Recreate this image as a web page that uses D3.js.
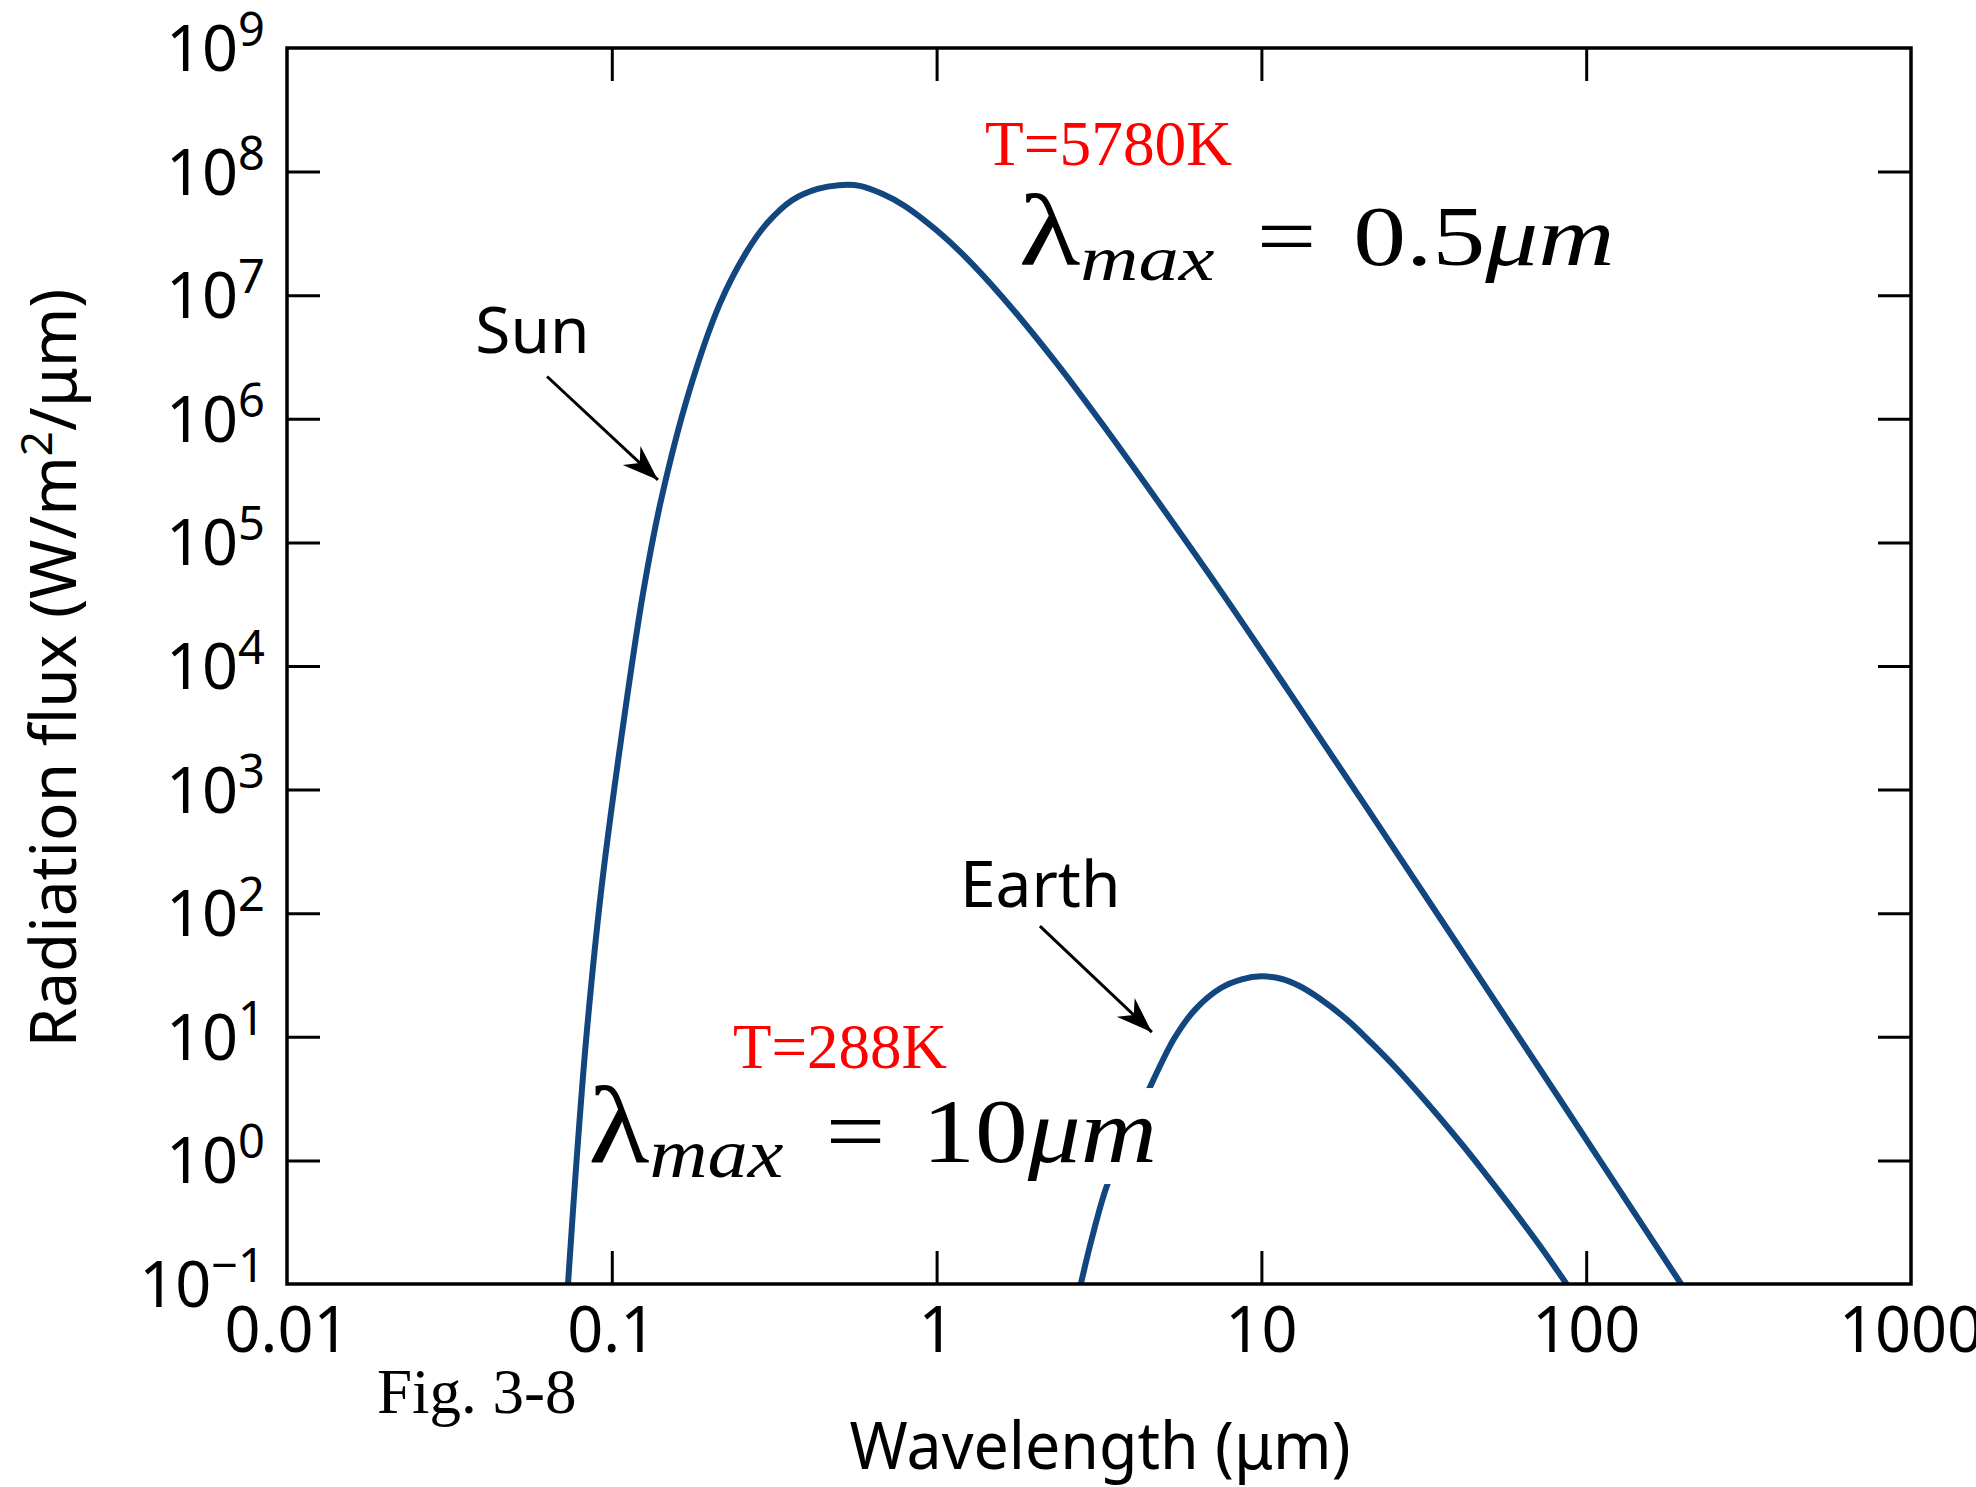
<!DOCTYPE html>
<html>
<head>
<meta charset="utf-8">
<script src="https://cdn.jsdelivr.net/npm/d3@7"></script>
<style>
  body { margin: 0; background: #fff; }
  svg { display: block; }
</style>
</head>
<body>
<script>
// ---- data ----
var xTickValues = [0.01, 0.1, 1, 10, 100, 1000];
var xTickLabels = ["0.01", "0.1", "1", "10", "100", "1000"];
var yTickValues = [0.1, 1, 10, 100, 1e3, 1e4, 1e5, 1e6, 1e7, 1e8, 1e9];
var yTickExponents = ["\u22121", "0", "1", "2", "3", "4", "5", "6", "7", "8", "9"];

// Sun, T = 5780 K
var sunWavelength = [0.0733, 0.0778, 0.0835, 0.0929, 0.107, 0.125, 0.142, 0.173, 0.215, 0.26,
  0.30, 0.36, 0.43, 0.50, 0.58, 0.68, 0.80, 1.0, 1.2, 1.6,
  2.34, 3.17, 4.69, 7.53, 12, 21.2, 40, 80, 196];
var sunFlux = [0.1, 0.955, 10, 158, 2630, 3.98e4, 2.24e5, 1.66e6, 8.51e6, 2.24e7,
  3.8e7, 5.89e7, 7.24e7, 7.76e7, 7.67e7, 6.61e7, 5.25e7, 3.35e7, 2.16e7, 9.55e6,
  2.82e6, 9.77e5, 2.34e5, 3.98e4, 6530, 701, 56.9, 3.61, 0.1];

// Earth, T = 288 K
var earthWavelength = [2.78, 3.0, 3.33, 3.8, 4.5, 5.4, 6.25, 7.5, 8.7, 10,
  11.5, 13, 15, 18.5, 22, 26, 32, 40, 48, 60, 72, 87];
var earthFlux = [0.1, 0.229, 0.603, 1.38, 3.72, 9.77, 16.6, 24.8, 29.2, 30.9,
  29.5, 26.0, 20.7, 13.5, 8.71, 5.56, 3.02, 1.51, 0.832, 0.389, 0.204, 0.1];

// annotations, positioned in data units
var annotations = [
  {text: "Sun", x: 0.038, y: 3.4e6},
  {text: "Earth", x: 1.18, y: 112}
];
var arrows = [
  {from: [0.0632, 2.2e6], to: [0.1387, 3.2e5]},
  {from: [2.08, 78.7], to: [4.6, 10.9]}
];
var tempLabels = [
  {text: "T=5780K", x: 1.41, y: 1.13e8, w: 247},
  {text: "T=288K", x: 0.236, y: 5.6, w: 214}
];
var peakLabels = [
  {value: "0.5", x: 1.79, y: 1.75e7, w: 596, size: 84, box: false},
  {value: "10", x: 0.0846, y: 0.97, w: 569, size: 92, box: true}
];

var margin = {top: 48, right: 65, bottom: 203, left: 287};
var width = 1976 - margin.left - margin.right;
var height = 1487 - margin.top - margin.bottom;

var sans = "'Noto Sans', 'Open Sans', sans-serif";
var serif = "'Liberation Serif', 'Times New Roman', serif";
var curveColor = "#11467f";

var svg = d3.select("body").append("svg")
  .attr("width", width + margin.left + margin.right)
  .attr("height", height + margin.top + margin.bottom);

var defs = svg.append("defs");
defs.append("clipPath").attr("id", "plot-clip")
  .append("rect").attr("width", width).attr("height", height);
defs.append("marker")
  .attr("id", "head")
  .attr("markerUnits", "userSpaceOnUse")
  .attr("viewBox", "-38 -15 40 30")
  .attr("markerWidth", 40).attr("markerHeight", 30)
  .attr("refX", 0).attr("refY", 0)
  .attr("orient", "auto")
  .append("path")
  .attr("d", "M0,0 L-36,-13 L-25,0 L-36,13 Z")
  .attr("fill", "#000");

var g = svg.append("g")
  .attr("transform", "translate(" + margin.left + "," + margin.top + ")");

var x = d3.scaleLog().domain([0.01, 1000]).range([0, width]);
var y = d3.scaleLog().domain([0.1, 1e9]).range([height, 0]);

// stretch a text horizontally so it matches the width seen in the figure
function fitWidth(text, w) {
  var b = text.node().getBBox();
  text.attr("transform", "scale(" + (w / b.width) + ",1)");
  return text;
}

// ---- curves ----
var line = d3.line()
  .x(function(d) { return x(d[0]); })
  .y(function(d) { return y(d[1]); })
  .curve(d3.curveCatmullRom.alpha(0.5));

var series = [
  d3.zip(sunWavelength, sunFlux),
  d3.zip(earthWavelength, earthFlux)
];

g.append("g")
  .attr("clip-path", "url(#plot-clip)")
  .selectAll("path")
  .data(series)
  .enter()
  .append("path")
  .attr("d", line)
  .attr("fill", "none")
  .attr("stroke", curveColor)
  .attr("stroke-width", 6)
  .attr("stroke-linejoin", "round");

// ---- ticks (inward, on all four sides) ----
var innerX = xTickValues.slice(1, -1);
var innerY = yTickValues.slice(1, -1);
var tickLen = -33;

function styleTicks(sel) {
  sel.select(".domain").remove();
  sel.selectAll(".tick line").attr("stroke", "#000").attr("stroke-width", 3);
}

g.append("g").attr("transform", "translate(0," + height + ")")
  .call(d3.axisBottom(x).tickValues(innerX).tickSize(tickLen).tickFormat(""))
  .call(styleTicks);
g.append("g")
  .call(d3.axisTop(x).tickValues(innerX).tickSize(tickLen).tickFormat(""))
  .call(styleTicks);
g.append("g")
  .call(d3.axisLeft(y).tickValues(innerY).tickSize(tickLen).tickFormat(""))
  .call(styleTicks);
g.append("g").attr("transform", "translate(" + width + ",0)")
  .call(d3.axisRight(y).tickValues(innerY).tickSize(tickLen).tickFormat(""))
  .call(styleTicks);

g.append("rect")
  .attr("width", width)
  .attr("height", height)
  .attr("fill", "none")
  .attr("stroke", "#000")
  .attr("stroke-width", 3.5);

// ---- tick labels ----
g.selectAll(".xlabel")
  .data(xTickValues)
  .enter()
  .append("text")
  .attr("class", "xlabel")
  .attr("x", function(d) { return x(d); })
  .attr("y", height + 68)
  .attr("text-anchor", "middle")
  .style("font-family", sans)
  .style("font-size", "63px")
  .text(function(d, i) { return xTickLabels[i]; });

var ylab = g.selectAll(".ylabel")
  .data(yTickValues)
  .enter()
  .append("text")
  .attr("class", "ylabel")
  .attr("x", -22)
  .attr("y", function(d) { return y(d) + 23; })
  .attr("text-anchor", "end")
  .style("font-family", sans)
  .style("font-size", "63px");
ylab.append("tspan").text("10");
ylab.append("tspan")
  .attr("dy", -25)
  .style("font-size", "47px")
  .text(function(d, i) { return yTickExponents[i]; });

// ---- axis titles ----
var xt = g.append("g").attr("transform", "translate(813," + (height + 185) + ")")
  .append("text")
  .attr("text-anchor", "middle")
  .style("font-family", sans)
  .style("font-size", "66px")
  .text("Wavelength (\u03bcm)");
fitWidth(xt, 501);

var yt = g.append("g").attr("transform", "translate(-211,620) rotate(-90)")
  .append("text")
  .attr("text-anchor", "middle")
  .style("font-family", sans)
  .style("font-size", "64px");
yt.append("tspan").text("Radiation flux (W/m");
yt.append("tspan").attr("dy", -24).style("font-size", "44px").text("2");
yt.append("tspan").attr("dy", 24).text("/\u03bcm)");
fitWidth(yt, 759);

g.append("text")
  .attr("x", 90)
  .attr("y", height + 129)
  .style("font-family", serif)
  .style("font-size", "63px")
  .text("Fig. 3-8");

// ---- annotations ----
g.selectAll(".name")
  .data(annotations)
  .enter()
  .append("text")
  .attr("class", "name")
  .attr("x", function(d) { return x(d.x); })
  .attr("y", function(d) { return y(d.y); })
  .style("font-family", sans)
  .style("font-size", "64px")
  .text(function(d) { return d.text; });

g.selectAll(".arrow")
  .data(arrows)
  .enter()
  .append("line")
  .attr("class", "arrow")
  .attr("x1", function(d) { return x(d.from[0]); })
  .attr("y1", function(d) { return y(d.from[1]); })
  .attr("x2", function(d) { return x(d.to[0]); })
  .attr("y2", function(d) { return y(d.to[1]); })
  .attr("stroke", "#000")
  .attr("stroke-width", 3)
  .attr("marker-end", "url(#head)");

tempLabels.forEach(function(d) {
  var t = g.append("g")
    .attr("transform", "translate(" + x(d.x) + "," + y(d.y) + ")")
    .append("text")
    .attr("fill", "#ff0000")
    .style("font-family", serif)
    .style("font-size", "64px")
    .text(d.text);
  fitWidth(t, d.w);
});

peakLabels.forEach(function(d) {
  var grp = g.append("g")
    .attr("transform", "translate(" + x(d.x) + "," + y(d.y) + ")");
  var box = grp.append("rect").attr("fill", "#fff");
  var t = grp.append("text")
    .style("font-family", serif)
    .style("font-size", d.size + "px");
  t.append("tspan").style("font-size", Math.round(d.size * 1.2) + "px").text("\u03bb");
  t.append("tspan").attr("dy", 15).style("font-style", "italic")
    .style("font-size", Math.round(d.size * 0.76) + "px").text("max");
  t.append("tspan").attr("dy", -15).attr("dx", d.size * 0.4).text("=");
  t.append("tspan").attr("dx", d.size * 0.35).text(d.value);
  t.append("tspan").style("font-style", "italic").text("\u03bcm");
  fitWidth(t, d.w);
  if (d.box) {
    box.attr("x", -2).attr("y", -74).attr("width", d.w + 6).attr("height", 96);
  }
});
</script>
</body>
</html>
